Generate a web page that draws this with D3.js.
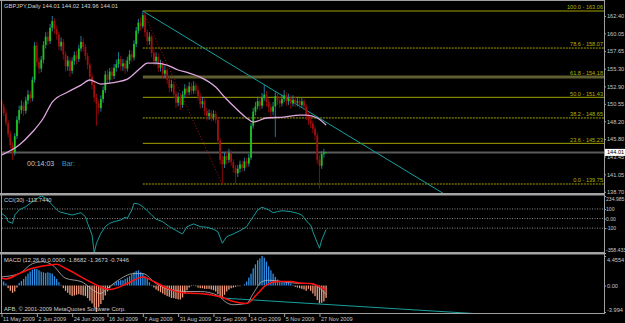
<!DOCTYPE html>
<html>
<head>
<meta charset="utf-8">
<script src="https://cdn.jsdelivr.net/npm/d3@7"></script>
<style>
  body { margin: 0; background: #000; }
  svg { display: block; font-family: "Liberation Sans", Arial, sans-serif; }
</style>
</head>
<body>
<div id="chart"></div>
<script>
// GBPJPY daily, 11 May 2009 .. 2 Dec 2009 (one bar per weekday)

let opens = [151.0,
  150.2, 149.3, 148.0, 146.5, 145.0, 144.0, 146.2, 148.4, 149.7, 150.3,
  149.6, 151.0, 151.8, 151.3, 153.8, 158.4, 156.2, 155.3, 156.5, 158.5,
  159.6, 159.0, 160.8, 161.7, 160.6, 159.9, 158.3, 158.9, 157.2, 155.6,
  156.4, 155.0, 156.3, 157.1, 156.6, 158.0, 158.9, 158.2, 157.0, 155.8,
  154.2, 153.1, 151.4, 150.6, 150.0, 151.2, 152.4, 154.5, 153.8, 154.9,
  154.3, 155.4, 155.9, 156.6, 155.6, 156.0, 155.3, 156.4, 157.2, 156.8,
  158.6, 160.4, 161.5, 161.0, 162.5, 160.2, 159.0, 159.6, 157.4, 156.3,
  156.9, 155.4, 155.9, 154.6, 155.1, 153.8, 152.7, 153.2, 151.9, 150.7,
  151.5, 150.4, 151.8, 152.6, 152.1, 152.9, 152.3, 153.0, 152.4, 151.6,
  150.5, 150.9, 149.6, 148.9, 149.3, 148.7, 149.2, 148.4, 145.6, 143.0,
  142.4, 143.5, 143.0, 143.9, 142.7, 141.9, 141.2, 141.8, 142.4, 141.9,
  142.8, 142.5, 143.3, 147.6, 149.5, 150.2, 150.9, 150.3, 151.4, 151.8,
  150.8, 150.1, 149.5, 150.2, 151.6, 151.0, 150.6, 151.2, 151.7, 150.9,
  151.3, 150.6, 151.1, 150.7, 150.9, 150.4, 150.9, 150.2, 149.0, 148.3,
  147.9, 147.2, 146.3, 143.0, 142.2, 143.8, 144.01];

let closes = [
  150.2, 149.3, 148.0, 146.5, 145.0, 144.0, 146.2, 148.4, 149.7, 150.3,
  149.6, 151.0, 151.8, 151.3, 153.8, 158.4, 156.2, 155.3, 156.5, 158.5,
  159.6, 159.0, 160.8, 161.7, 160.6, 159.9, 158.3, 158.9, 157.2, 155.6,
  156.4, 155.0, 156.3, 157.1, 156.6, 158.0, 158.9, 158.2, 157.0, 155.8,
  154.2, 153.1, 151.4, 150.6, 150.0, 151.2, 152.4, 154.5, 153.8, 154.9,
  154.3, 155.4, 155.9, 156.6, 155.6, 156.0, 155.3, 156.4, 157.2, 156.8,
  158.6, 160.4, 161.5, 161.0, 162.5, 160.2, 159.0, 159.6, 157.4, 156.3,
  156.9, 155.4, 155.9, 154.6, 155.1, 153.8, 152.7, 153.2, 151.9, 150.7,
  151.5, 150.4, 151.8, 152.6, 152.1, 152.9, 152.3, 153.0, 152.4, 151.6,
  150.5, 150.9, 149.6, 148.9, 149.3, 148.7, 149.2, 148.4, 145.6, 143.0,
  142.4, 143.5, 143.0, 143.9, 142.7, 141.9, 141.2, 141.8, 142.4, 141.9,
  142.8, 142.5, 143.3, 147.6, 149.5, 150.2, 150.9, 150.3, 151.4, 151.8,
  150.8, 150.1, 149.5, 150.2, 151.6, 151.0, 150.6, 151.2, 151.7, 150.9,
  151.3, 150.6, 151.1, 150.7, 150.9, 150.4, 150.9, 150.2, 149.0, 148.3,
  147.9, 147.2, 146.3, 143.0, 142.2, 143.8, 144.0, 144.01];

let highs = [
  151.5, 150.6, 149.8, 148.4, 146.9, 145.4, 146.6, 148.9, 150.3, 151.0,
  150.8, 151.5, 152.4, 152.3, 154.2, 158.9, 158.9, 156.8, 157.0, 159.0,
  160.2, 160.3, 161.3, 162.4, 162.1, 161.1, 160.3, 159.5, 159.3, 157.6,
  157.0, 156.8, 156.8, 157.6, 157.7, 158.5, 159.7, 159.4, 158.6, 157.4,
  156.1, 154.6, 153.5, 151.9, 151.1, 151.7, 152.9, 155.0, 155.2, 155.4,
  155.5, 155.9, 156.5, 157.5, 157.0, 156.6, 156.5, 156.9, 157.8, 157.7,
  159.1, 160.9, 162.0, 162.2, 163.06, 162.8, 160.6, 160.2, 159.9, 157.9,
  157.5, 157.3, 156.5, 156.3, 155.7, 155.5, 154.3, 153.8, 153.6, 152.3,
  152.1, 151.9, 152.3, 153.2, 153.0, 153.5, 153.4, 153.6, 153.4, 152.9,
  152.0, 151.5, 151.3, 150.0, 149.8, 149.7, 149.7, 149.6, 148.8, 146.0,
  143.6, 144.0, 144.1, 144.5, 144.3, 143.1, 142.3, 142.3, 142.9, 142.9,
  143.3, 143.3, 143.8, 148.0, 150.0, 150.8, 151.5, 151.4, 152.0, 153.1,
  152.3, 151.3, 150.6, 150.8, 152.1, 152.0, 151.5, 151.8, 152.4, 152.1,
  151.9, 151.7, 151.7, 151.5, 151.5, 151.3, 151.4, 151.2, 150.5, 149.4,
  148.8, 148.3, 147.6, 146.7, 143.6, 144.2, 144.5, 144.02];

let lows = [
  149.8, 148.9, 147.6, 146.0, 144.5, 143.0, 143.6, 145.8, 147.9, 149.2,
  148.9, 149.2, 150.5, 150.7, 150.9, 153.4, 155.6, 154.6, 154.8, 156.0,
  158.0, 158.4, 158.6, 160.3, 160.0, 159.2, 157.8, 157.7, 156.5, 154.9,
  155.0, 154.2, 154.6, 155.8, 155.9, 156.2, 157.6, 157.6, 156.5, 155.2,
  153.6, 152.5, 150.8, 147.6, 149.2, 149.5, 150.7, 152.0, 153.2, 153.3,
  153.7, 153.9, 154.9, 155.4, 155.0, 155.0, 154.6, 154.9, 155.9, 156.2,
  156.4, 158.2, 160.0, 160.4, 160.7, 159.6, 158.4, 158.5, 156.8, 155.7,
  155.8, 154.8, 154.9, 154.0, 154.1, 153.2, 152.1, 152.2, 151.3, 150.0,
  150.2, 149.7, 150.0, 151.3, 151.5, 151.7, 151.8, 151.9, 151.9, 151.0,
  149.9, 150.0, 149.0, 148.3, 148.4, 148.2, 148.3, 147.9, 145.1, 142.4,
  139.75, 141.9, 142.4, 142.6, 142.2, 141.3, 139.8, 140.7, 141.3, 141.4,
  141.5, 142.0, 142.1, 143.0, 147.2, 149.0, 149.8, 149.7, 149.9, 151.0,
  150.2, 149.4, 148.6, 149.0, 146.1, 150.4, 150.0, 150.2, 150.8, 150.3,
  150.4, 149.9, 150.2, 150.1, 150.2, 149.9, 150.0, 149.7, 148.4, 147.7,
  147.3, 146.6, 145.7, 142.5, 139.1, 141.8, 143.3, 143.96];

// moving average (pink), read at these bars
let maIdx = [0, 8, 14, 19, 23, 30, 36, 40, 45, 49, 52, 57, 63, 66, 70, 75, 80, 85, 90, 97, 101, 106, 111, 114, 120, 128, 135, 138, 143, 147];
let maVal = [143.65, 145.0, 146.75, 148.64, 150.79, 152.14, 153.08, 153.76, 153.22, 153.35, 153.49, 153.89, 155.38, 156.05, 156.05, 155.78, 155.11, 154.7, 154.16, 152.81, 151.47, 149.98, 148.64, 148.1, 148.64, 148.77, 149.04, 149.04, 148.64, 147.69];

// fibonacci retracement
let fibPct = ["100.0", "78.6", "61.8", "50.0", "38.2", "23.6", "0.0"];
let fibPrice = [163.06, 158.07, 154.18, 151.43, 148.65, 145.23, 139.75];
let fibDotted = [false, true, false, false, true, false, true];

// trend line over the highs and the fib diagonal
let trendIdx = [64, 130];
let trendVal = [163.06, 151.14];
let fibDiagIdx = [64, 100];
let fibDiagVal = [163.06, 139.75];

let lastPrice = 144.01;
let priceTicks = [162.40, 160.05, 157.65, 155.30, 152.90, 150.55, 148.20, 145.80, 143.45, 141.05, 138.70];

// CCI(30)
let cciIdx = [0, 2, 3, 5, 6, 8, 11, 14, 18, 20, 23, 26, 30, 32, 36, 38, 39, 41, 42, 43, 45, 47, 49, 51, 54, 56, 57, 59, 60, 62, 64, 66, 68, 70, 73, 76, 80, 82, 84, 87, 90, 93, 96, 98, 100, 102, 105, 108, 111, 114, 116, 118, 121, 123, 125, 127, 131, 134, 136, 139, 140, 141, 144, 145, 147];
let cciVal = [55, 20, -32, -49, 37, 90, 124, 176, 235, 215, 141, 72, 48, 37, 61, 20, -49, -171, -358, -257, -153, -84, -49, -32, -15, 14, 3, 90, 159, 152, 124, 82, 37, -7, -32, -84, -136, -160, -84, -56, -84, -90, -111, -136, -257, -188, -160, -126, -84, 20, 90, 118, 90, 61, 72, 82, 72, 55, 37, -49, -67, -136, -309, -223, -113.744];
let cciTicks = [234.985, 100, 0, -100, -358.433];
let cciTickText = ["234.985", "100", "0.00", "-100", "-358.433"];

// MACD(12,26,9)
let macdHist = [
  0.8, 0.6, 0.3, -0.4, -0.8, -1.1, -0.9, -0.3, 0.4, 0.7,
  1.0, 1.4, 1.8, 2.1, 2.4, 2.5, 2.5, 2.3, 2.1, 2.0,
  1.9, 2.0, 1.9, 1.8, 1.4, 1.0, 0.5, 0.1, -0.4, -0.8,
  -1.1, -1.4, -1.6, -1.5, -1.4, -1.3, -1.4, -1.5, -1.6, -1.9,
  -2.3, -2.7, -3.3, -3.994, -3.3, -2.8, -2.2, -1.5, -0.9, -0.4,
  -0.1, 0.3, 0.6, 0.7, 0.8, 0.8, 1.0, 1.2, 1.4, 1.7,
  2.0, 2.2, 2.3, 2.0, 1.8, 1.4, 1.0, 0.5, 0.1, -0.3,
  -0.6, -0.8, -1.0, -1.2, -1.4, -1.6, -1.7, -1.9, -1.9, -2.0,
  -2.1, -2.1, -1.8, -1.2, -0.7, -0.3, -0.1, 0.1, -0.1, -0.3,
  -0.4, -0.4, -0.5, -0.5, -0.5, -0.6, -0.7, -0.9, -1.3, -1.8,
  -1.9, -1.4, -0.9, -0.6, -0.4, -0.3, -0.2, -0.1, -0.1, 0.0,
  0.2, 0.6, 1.2, 1.8, 2.6, 3.2, 3.8, 4.1, 4.4554, 4.2,
  3.6, 2.9, 2.3, 1.8, 1.3, 0.9, 0.7, 0.6, 0.5, 0.6,
  0.5, 0.3, 0.1, -0.2, -0.3, -0.4, -0.5, -0.6, -0.8, -0.5,
  -0.8, -1.2, -1.6, -2.2, -2.7, -2.6, -2.4, -1.8682];
let macdGrayIdx = [0, 8, 14, 19, 23, 29, 36, 45, 47, 52, 60, 64, 70, 77, 84, 90, 98, 102, 105, 111, 114, 118, 121, 127, 134, 140, 147];
let macdGrayVal = [1.3, 1.8, 3.3, 3.6, 3.1, 1.1, 0.6, -1.2, -0.7, 0.6, 1.8, 1.8, 0.3, -0.7, -0.9, -0.9, -1.5, -2.6, -2.9, -2.7, -1.2, 0.6, 0.8, 0.6, 0.33, 0.3, -1.3673];
let macdRedIdx = [0, 2, 8, 14, 22, 25, 29, 36, 45, 49, 57, 64, 69, 75, 82, 90, 99, 105, 111, 116, 120, 125, 131, 136, 140, 147];
let macdRedVal = [1.1, 1.0, 1.8, 2.6, 3.1, 3.2, 2.6, 1.3, -0.2, -0.6, 0.3, 1.3, 0.6, -0.4, -1.1, -1.2, -1.7, -2.4, -2.7, -1.2, 0.1, 0.6, 0.6, 0.35, 0.3, -0.7446];
let macdTrendIdx = [100, 203];
let macdTrendVal = [-1.89, -4.0];
let macdTicks = [4.4554, 0, -3.994];
let macdTickText = ["4.4554", "0.00", "-3.994"];

// date axis
let dateTickIdx = [0, 16, 32, 48, 64, 80, 96, 112, 128, 144];
let dateTickText = ["11 May 2009", "2 Jun 2009", "24 Jun 2009", "16 Jul 2009", "7 Aug 2009", "31 Aug 2009", "22 Sep 2009", "14 Oct 2009", "5 Nov 2009", "27 Nov 2009"];

// LAYOUT //
let W = 625, H = 323;
let plotL = 2, plotR = 604;
let mainTop = 1, mainBot = 193;
let cciTop = 196, cciBot = 252;
let macdTop = 255, macdBot = 313;

let svg = d3.select("#chart").append("svg")
    .attr("width", W)
    .attr("height", H)
    .style("background", "#000");

// scales
let x = d3.scaleLinear().domain([0, 147]).range([1.5, 326.1]);
let y = d3.scaleLinear().domain([139.75, 163.06]).range([184, 11]);
let yCci = d3.scaleLinear().domain([-358.433, 234.985]).range([253, 196]);
let yMacd = d3.scaleLinear().domain([-3.994, 4.4554]).range([312, 256]);

// clip paths for the three windows
let defs = svg.append("defs");
[["clipMain", mainTop, mainBot], ["clipCci", cciTop, cciBot], ["clipMacd", macdTop, macdBot]].forEach(function(c) {
    defs.append("clipPath").attr("id", c[0])
        .append("rect")
        .attr("x", plotL).attr("y", c[1])
        .attr("width", plotR - plotL).attr("height", c[2] - c[1]);
});

// FRAME //
svg.append("rect")
    .attr("x", 0).attr("y", 0).attr("width", W).attr("height", H)
    .attr("fill", "#000");
// separators between windows
[mainBot, cciBot].forEach(function(yy) {
    svg.append("rect")
        .attr("x", 0).attr("y", yy).attr("width", plotR + 1).attr("height", 2.5)
        .attr("fill", "#a4a4a4");
});
svg.append("line")
    .attr("x1", 0).attr("x2", plotR).attr("y1", 0.5).attr("y2", 0.5)
    .attr("stroke", "#a0a0a0");
svg.append("line")
    .attr("x1", 1.5).attr("x2", 1.5).attr("y1", 0).attr("y2", macdBot)
    .attr("stroke", "#a0a0a0");
svg.append("line")
    .attr("x1", 0).attr("x2", plotR).attr("y1", macdBot + 0.5).attr("y2", macdBot + 0.5)
    .attr("stroke", "#a0a0a0");
svg.append("line")
    .attr("x1", plotR + 0.5).attr("x2", plotR + 0.5).attr("y1", 0).attr("y2", macdBot + 1)
    .attr("stroke", "#a0a0a0");

// MAIN WINDOW //
let main = svg.append("g").attr("clip-path", "url(#clipMain)");

// current price line
main.append("line")
    .attr("x1", plotL).attr("x2", plotR)
    .attr("y1", y(lastPrice)).attr("y2", y(lastPrice))
    .attr("stroke", "#5a5a5a").attr("stroke-width", 2);

// fib levels
let fibX0 = x(trendIdx[0]);
fibPrice.forEach(function(p, i) {
    let thick = fibPct[i] === "61.8";
    main.append("line")
        .attr("x1", fibX0).attr("x2", plotR)
        .attr("y1", y(p)).attr("y2", y(p))
        .attr("stroke", thick ? "#5e5e30" : "#a2a200")
        .attr("stroke-width", thick ? 3 : 1)
        .attr("stroke-dasharray", fibDotted[i] ? "2,1" : null);
    main.append("text")
        .attr("x", plotR - 1)
        .attr("y", y(p) - 1.8)
        .attr("text-anchor", "end")
        .attr("fill", "#b4b400")
        .style("font-size", "5.6px")
        .text(fibPct[i] + " - " + p.toFixed(2));
});

// fib diagonal (dotted red)
main.append("line")
    .attr("x1", x(fibDiagIdx[0])).attr("y1", y(fibDiagVal[0]))
    .attr("x2", x(fibDiagIdx[1])).attr("y2", y(fibDiagVal[1]))
    .attr("stroke", "#b01010").attr("stroke-width", 1)
    .attr("stroke-dasharray", "1,2");

// trend line as a ray to the right
let slope = (trendVal[1] - trendVal[0]) / (trendIdx[1] - trendIdx[0]);
main.append("line")
    .attr("x1", x(trendIdx[0])).attr("y1", y(trendVal[0]))
    .attr("x2", x(400)).attr("y2", y(trendVal[0] + slope * (400 - trendIdx[0])))
    .attr("stroke", "#17a0a0").attr("stroke-width", 1);

// candles
let bars = d3.range(closes.length);
main.append("g").selectAll("line")
    .data(bars).enter().append("line")
    .attr("x1", function(i) { return x(i); })
    .attr("x2", function(i) { return x(i); })
    .attr("y1", function(i) { return y(highs[i]); })
    .attr("y2", function(i) { return y(lows[i]); })
    .attr("stroke", function(i) { return closes[i] >= opens[i] ? "#2288aa" : "#9a0808"; })
    .attr("stroke-width", 0.9);

main.append("g").selectAll("rect")
    .data(bars).enter().append("rect")
    .attr("x", function(i) { return x(i) - 0.9; })
    .attr("width", 1.8)
    .attr("y", function(i) { return y(Math.max(opens[i], closes[i])); })
    .attr("height", function(i) { return Math.max(0.8, Math.abs(y(opens[i]) - y(closes[i]))); })
    .attr("fill", function(i) { return closes[i] >= opens[i] ? "#1cc41c" : "#a01010"; });

// moving average
main.append("path")
    .datum(maIdx)
    .attr("fill", "none")
    .attr("stroke", "#e0a8e0")
    .attr("stroke-width", 1.3)
    .attr("d", d3.line()
        .x(function(d) { return x(d); })
        .y(function(d, k) { return y(maVal[k]); })
        .curve(d3.curveMonotoneX));

// header + timer
svg.append("text")
    .attr("x", 4).attr("y", 8)
    .attr("fill", "#d0d0d0")
    .style("font-size", "5.8px")
    .text("GBPJPY,Daily  144.01 144.02 143.96 144.01");
svg.append("text")
    .attr("x", 27).attr("y", 166)
    .attr("fill", "#c8c8c8")
    .style("font-size", "7px")
    .text("00:14:03");
svg.append("text")
    .attr("x", 62).attr("y", 166)
    .attr("fill", "#2aa0c0")
    .style("font-size", "7px")
    .text("Bar:");

// price axis
let priceAxis = svg.append("g")
    .attr("transform", "translate(" + plotR + ",0)")
    .call(d3.axisRight(y).tickValues(priceTicks).tickFormat(d3.format(".2f")).tickSize(2));

// CCI WINDOW //
let cci = svg.append("g").attr("clip-path", "url(#clipCci)");
[100, 0, -100].forEach(function(v) {
    cci.append("line")
        .attr("x1", plotL).attr("x2", plotR)
        .attr("y1", yCci(v)).attr("y2", yCci(v))
        .attr("stroke", "#8a8a8a")
        .attr("stroke-dasharray", "1,1.5");
});
cci.append("path")
    .datum(cciIdx)
    .attr("fill", "none")
    .attr("stroke", "#1a9a9a")
    .attr("stroke-width", 1)
    .attr("d", d3.line()
        .x(function(d) { return x(d); })
        .y(function(d, k) { return yCci(cciVal[k]); }));
svg.append("text")
    .attr("x", 4).attr("y", 202)
    .attr("fill", "#d0d0d0")
    .style("font-size", "5.8px")
    .text("CCI(30) -113.7440");
let cciAxis = svg.append("g")
    .attr("transform", "translate(" + plotR + ",0)")
    .call(d3.axisRight(yCci).tickValues(cciTicks)
        .tickFormat(function(d, k) { return cciTickText[k]; }).tickSize(2));

// MACD WINDOW //
let macd = svg.append("g").attr("clip-path", "url(#clipMacd)");
macd.append("g").selectAll("rect")
    .data(macdHist).enter().append("rect")
    .attr("x", function(d, i) { return x(i) - 0.65; })
    .attr("width", 1.3)
    .attr("y", function(d) { return Math.min(yMacd(d), yMacd(0)); })
    .attr("height", function(d) { return Math.abs(yMacd(d) - yMacd(0)); })
    .attr("fill", function(d) { return d >= 0 ? "#2f8fe6" : "#f29a7c"; });

let macdSlope = (macdTrendVal[1] - macdTrendVal[0]) / (macdTrendIdx[1] - macdTrendIdx[0]);
macd.append("line")
    .attr("x1", x(macdTrendIdx[0])).attr("y1", yMacd(macdTrendVal[0]))
    .attr("x2", x(260)).attr("y2", yMacd(macdTrendVal[0] + macdSlope * (260 - macdTrendIdx[0])))
    .attr("stroke", "#17a0a0").attr("stroke-width", 1);

macd.append("path")
    .datum(macdGrayIdx)
    .attr("fill", "none")
    .attr("stroke", "#b8b8b8")
    .attr("stroke-width", 0.8)
    .attr("d", d3.line()
        .x(function(d) { return x(d); })
        .y(function(d, k) { return yMacd(macdGrayVal[k]); })
        .curve(d3.curveMonotoneX));
macd.append("path")
    .datum(macdRedIdx)
    .attr("fill", "none")
    .attr("stroke", "#ff1010")
    .attr("stroke-width", 1.5)
    .attr("d", d3.line()
        .x(function(d) { return x(d); })
        .y(function(d, k) { return yMacd(macdRedVal[k]); })
        .curve(d3.curveMonotoneX));

svg.append("text")
    .attr("x", 4).attr("y", 262)
    .attr("fill", "#d0d0d0")
    .style("font-size", "5.8px")
    .text("MACD (12,26,9) 0.0000 -1.8682 -1.3673 -0.7446");
svg.append("text")
    .attr("x", 4).attr("y", 311)
    .attr("fill", "#d0d0d0")
    .style("font-size", "5.8px")
    .text("AFB, \u00a9 2001-2009 MetaQuotes Software Corp.");

let macdAxis = svg.append("g")
    .attr("transform", "translate(" + plotR + ",0)")
    .call(d3.axisRight(yMacd).tickValues(macdTicks)
        .tickFormat(function(d, k) { return macdTickText[k]; }).tickSize(2));

// DATE AXIS //
let dateAxis = svg.append("g")
    .attr("transform", "translate(0," + (macdBot + 1) + ")")
    .call(d3.axisBottom(x).tickValues(dateTickIdx)
        .tickFormat(function(d, k) { return dateTickText[k]; }).tickSize(3));
dateAxis.selectAll("text")
    .attr("text-anchor", "start")
    .attr("dx", "1px")
    .attr("y", 3);

// common axis styling
[priceAxis, cciAxis, macdAxis, dateAxis].forEach(function(a) {
    a.select(".domain").remove();
    a.selectAll("line").attr("stroke", "#a0a0a0");
    a.selectAll("text")
        .attr("fill", "#c8c8c8")
        .style("font-size", "5.6px")
        .style("font-family", "'Liberation Sans', Arial, sans-serif");
});
priceAxis.selectAll("text").attr("x", 3);
cciAxis.selectAll("text").attr("x", 2).style("font-size", "5.1px");
macdAxis.selectAll("text").attr("x", 3);
// nudge edge labels inside their windows
cciAxis.selectAll("text").filter(function(d, k) { return k === 0; }).attr("dy", "0.95em");
cciAxis.selectAll("text").filter(function(d, k) { return k === 4; }).attr("dy", "-0.2em");
macdAxis.selectAll("text").filter(function(d, k) { return k === 0; }).attr("dy", "0.9em");
macdAxis.selectAll("text").filter(function(d, k) { return k === 2; }).attr("dy", "-0.1em");

// last price box, drawn over the axis labels
svg.append("rect")
    .attr("x", plotR + 1).attr("y", y(lastPrice) - 3.5)
    .attr("width", 20).attr("height", 7)
    .attr("fill", "#ffffff");
svg.append("text")
    .attr("x", plotR + 3).attr("y", y(lastPrice) + 2)
    .attr("fill", "#000")
    .style("font-size", "5.6px")
    .text(lastPrice.toFixed(2));
</script>
</body>
</html>
